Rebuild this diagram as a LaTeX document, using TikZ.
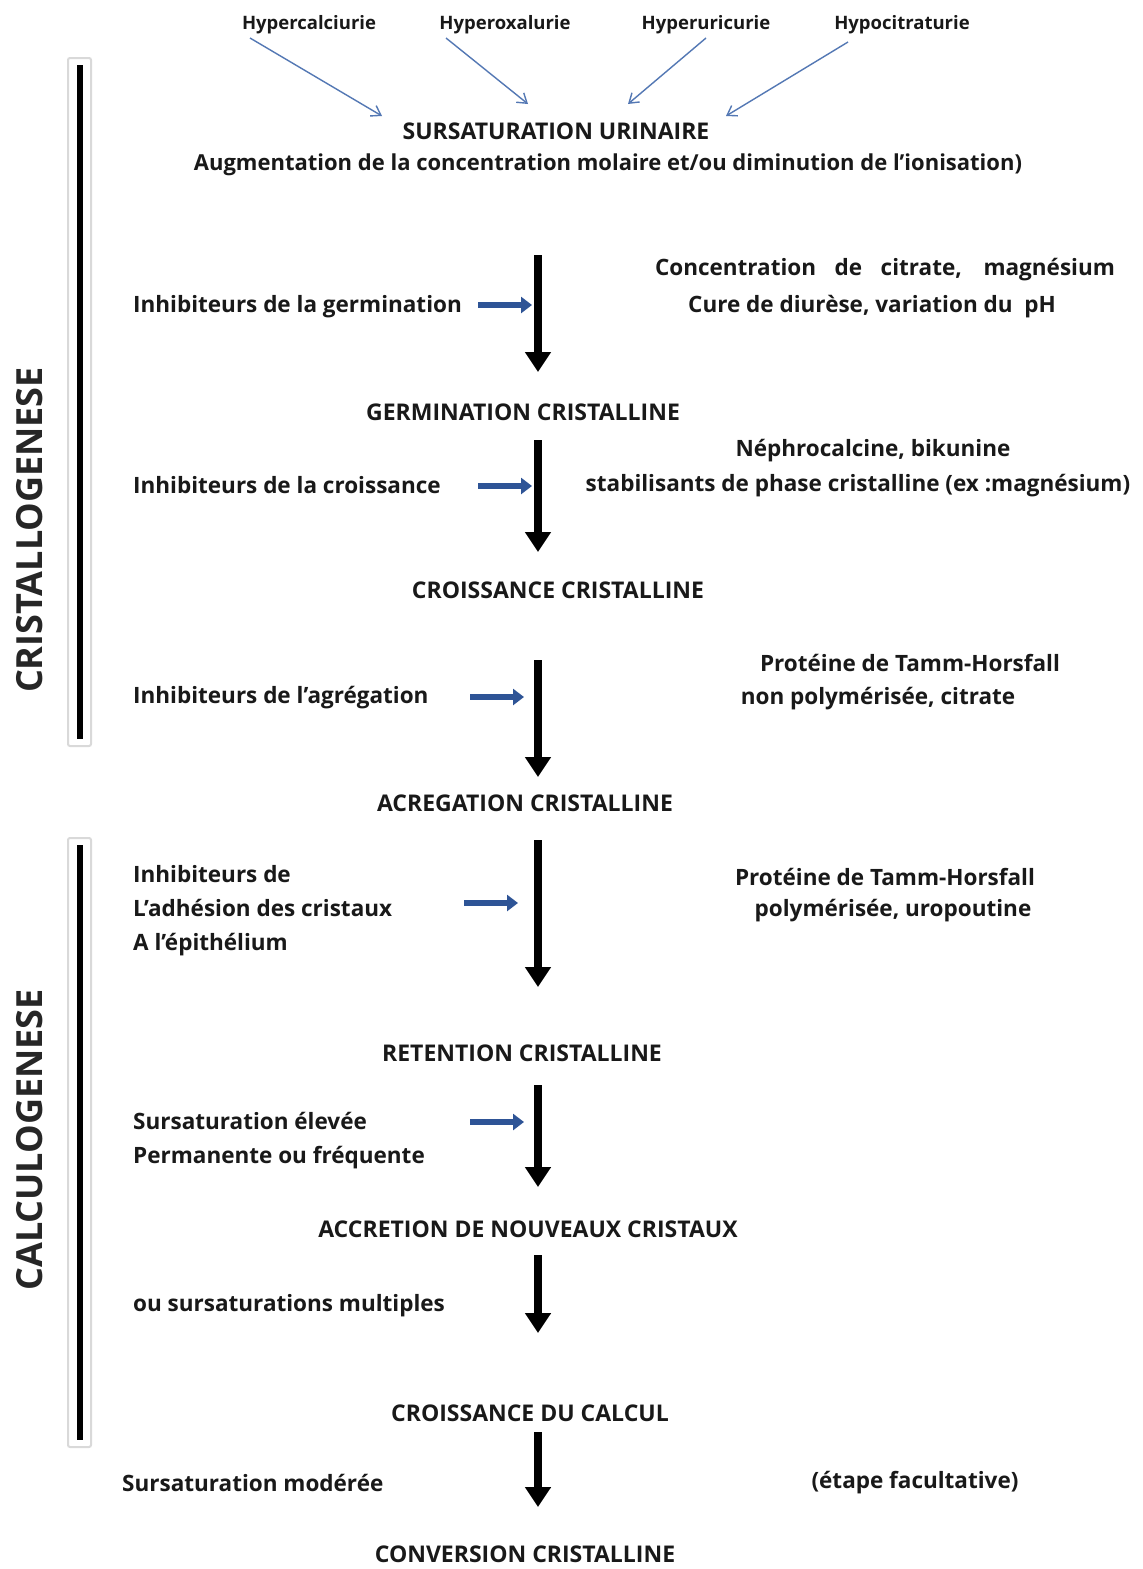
\documentclass[tikz,border=0pt]{standalone}
\usepackage{fontspec}
\setmainfont{Open Sans}
\usetikzlibrary{arrows.meta}
\definecolor{thinblue}{RGB}{84,120,180}
\definecolor{blockblue}{RGB}{46,84,150}
\definecolor{txt}{RGB}{25,25,25}
\begin{document}
\begin{tikzpicture}[x=1pt,y=-1pt,
  every node/.style={inner sep=0pt, font=\bfseries\fontsize{22.5}{34}\selectfont, text=txt},
  title/.style={font=\bfseries\fontsize{23}{26}\selectfont},
  cause/.style={font=\bfseries\fontsize{18.5}{22}\selectfont},
  lefttxt/.style={anchor=west, align=left},
  side/.style={rotate=90, font=\bfseries\fontsize{36}{38}\selectfont, text=black!85},
  thinarrow/.style={draw=thinblue, line width=1.4pt, -{Straight Barb[length=9pt,width=12pt]}},
  blockarrow/.style={draw=blockblue, line width=6pt, -{Triangle[length=11pt,width=16pt]}},
  mainarrow/.style={draw=black, line width=7.5pt, -{Triangle[length=20pt,width=25pt]}},
  barframe/.style={draw=black!15, line width=2pt, fill=white},
  bar/.style={draw=black, line width=6pt}
]
\useasboundingbox (0,0) rectangle (1143,1569);
\fill[white] (0,0) rectangle (1143,1569);

% top causes
\node[cause] (h1) at (309,25) {Hypercalciurie};
\node[cause] (h2) at (505,25) {Hyperoxalurie};
\node[cause] (h3) at (706,25) {Hyperuricurie};
\node[cause] (h4) at (902,25) {Hypocitraturie};
\coordinate (e1) at (382,116);
\coordinate (e2) at (528,104);
\coordinate (e3) at (628,104);
\coordinate (e4) at (726,116);
\coordinate (s1) at (250,38);
\coordinate (s2) at (446,38);
\coordinate (s3) at (706,38);
\coordinate (s4) at (848,42);
\draw[thinarrow] (s1) -- (e1);
\draw[thinarrow] (s2) -- (e2);
\draw[thinarrow] (s3) -- (e3);
\draw[thinarrow] (s4) -- (e4);

\node[title] (sur) at (556,131) {SURSATURATION URINAIRE};
\node[font=\bfseries\fontsize{22}{26}\selectfont] (aug) at (608,165) {Augmentation de la concentration molaire et/ou diminution de l'ionisation)};

% side bars
\draw[barframe, rounded corners=2pt] (68,58) rectangle (91,746);
\coordinate (b1t) at (79.5,65);
\coordinate (b1b) at (79.5,739);
\draw[bar] (b1t) -- (b1b);
\node[side] (cris) at (30,530) {CRISTALLOGENESE};

\draw[barframe, rounded corners=2pt] (68,838) rectangle (91,1447);
\coordinate (b2t) at (79.5,845);
\coordinate (b2b) at (79.5,1440);
\draw[bar] (b2t) -- (b2b);
\node[side] (calc) at (30,1140) {CALCULOGENESE};

% step 1
\coordinate (a1t) at (538,255);
\coordinate (a1b) at (538,372);
\draw[mainarrow] (a1t) -- (a1b);
\node[lefttxt] (i1) at (133,307) {Inhibiteurs de la germination};
\coordinate (q1s) at (478,305);
\coordinate (q1e) at (532,305);
\draw[blockarrow] (q1s) -- (q1e);
\node (r1a) at (885,270) {\makebox[460pt][s]{Concentration de citrate, magnésium}};
\node (r1b) at (872,307) {Cure de diurèse, variation du\ \ pH};

\node[title] (germ) at (523,412) {GERMINATION CRISTALLINE};

% step 2
\coordinate (a2t) at (538,440);
\coordinate (a2b) at (538,552);
\draw[mainarrow] (a2t) -- (a2b);
\node[lefttxt] (i2) at (133,485) {Inhibiteurs de la croissance};
\coordinate (q2s) at (478,486);
\coordinate (q2e) at (532,486);
\draw[blockarrow] (q2s) -- (q2e);
\node (r2a) at (873,451) {Néphrocalcine, bikunine};
\node (r2b) at (858,486) {stabilisants de phase cristalline (ex :magnésium)};

\node[title] (crois) at (558,590) {CROISSANCE CRISTALLINE};

% step 3
\coordinate (a3t) at (538,660);
\coordinate (a3b) at (538,777);
\draw[mainarrow] (a3t) -- (a3b);
\node[lefttxt] (i3) at (133,698) {Inhibiteurs de l'agrégation};
\coordinate (q3s) at (470,697);
\coordinate (q3e) at (524,697);
\draw[blockarrow] (q3s) -- (q3e);
\node (r3a) at (910,663) {Protéine de Tamm-Horsfall};
\node (r3b) at (878,699) {non polymérisée, citrate};

\node[title] (agr) at (525,803) {ACREGATION CRISTALLINE};

% step 4
\coordinate (a4t) at (538,840);
\coordinate (a4b) at (538,987);
\draw[mainarrow] (a4t) -- (a4b);
\node[lefttxt, align=left] (i4) at (133,911) {Inhibiteurs de\\L'adhésion des cristaux\\A l'épithélium};
\coordinate (q4s) at (464,903);
\coordinate (q4e) at (518,903);
\draw[blockarrow] (q4s) -- (q4e);
\node (r4a) at (885,877) {Protéine de Tamm-Horsfall};
\node (r4b) at (893,911) {polymérisée, uropoutine};

\node[title] (ret) at (522,1053) {RETENTION CRISTALLINE};

% step 5
\coordinate (a5t) at (538,1085);
\coordinate (a5b) at (538,1187);
\draw[mainarrow] (a5t) -- (a5b);
\node[lefttxt, align=left] (i5) at (133,1141) {Sursaturation élevée\\Permanente ou fréquente};
\coordinate (q5s) at (470,1122);
\coordinate (q5e) at (524,1122);
\draw[blockarrow] (q5s) -- (q5e);

\node[title] (accr) at (528,1229) {ACCRETION DE NOUVEAUX CRISTAUX};

% step 6
\coordinate (a6t) at (538,1255);
\coordinate (a6b) at (538,1333);
\draw[mainarrow] (a6t) -- (a6b);
\node[lefttxt] (i6) at (133,1306) {ou sursaturations multiples};

\node[title] (calcul) at (530,1413) {CROISSANCE DU CALCUL};

% step 7
\coordinate (a7t) at (538,1432);
\coordinate (a7b) at (538,1507);
\draw[mainarrow] (a7t) -- (a7b);
\node[lefttxt] (i7) at (122,1483) {Sursaturation modérée};
\node (r7) at (915,1483) {(étape facultative)};

\node[title, anchor=base] (conv) at (525,1562) {CONVERSION CRISTALLINE};
\end{tikzpicture}
\end{document}
